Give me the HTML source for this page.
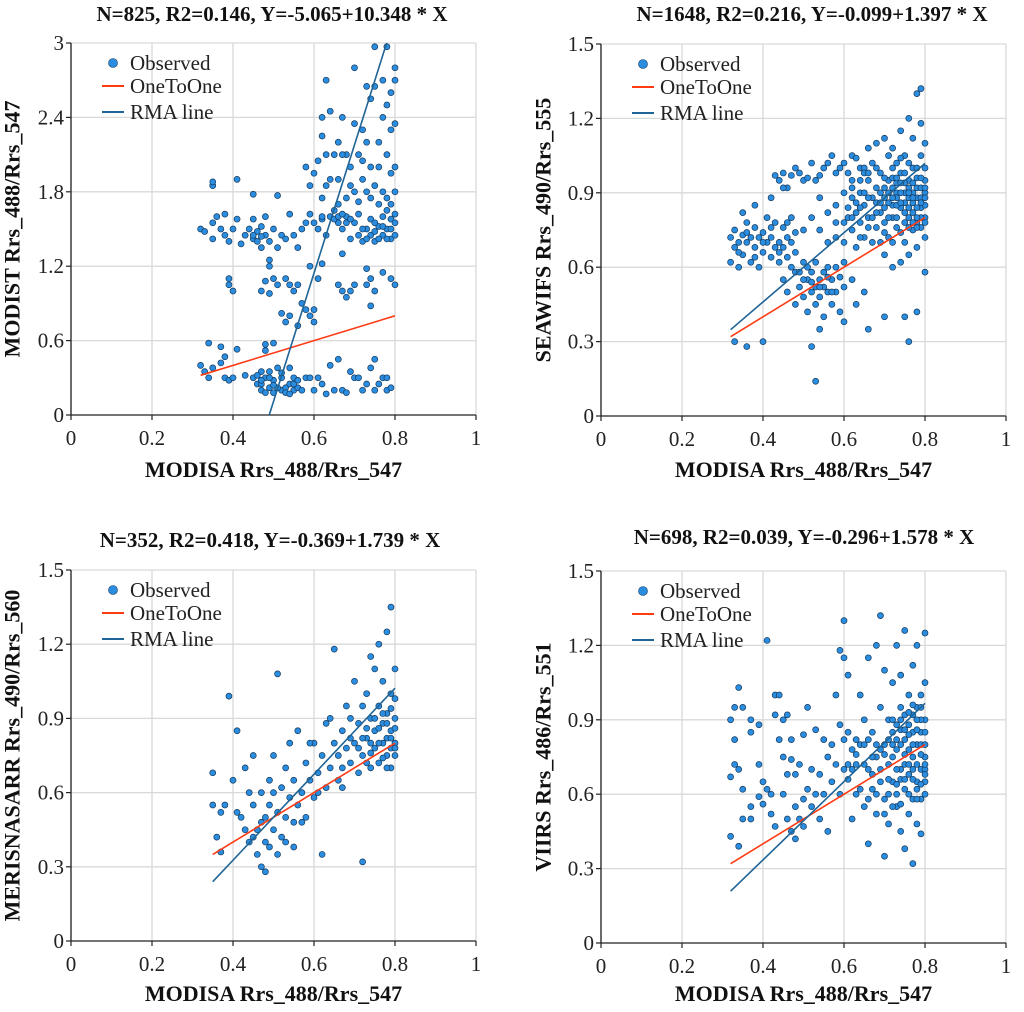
<!DOCTYPE html>
<html><head><meta charset="utf-8"><style>
body{margin:0;background:#fff}
svg,svg text{font-family:"Liberation Serif","DejaVu Serif",serif}
</style></head><body>
<svg id="chart" width="1024" height="1007" viewBox="0 0 1024 1007"></svg>
<script>
const xTicks=[0,0.2,0.4,0.6,0.8,1];
const yTicks1=[0,0.6,1.2,1.8,2.4,3];
const yTicks2=[0,0.3,0.6,0.9,1.2,1.5];
const titles=["N=825, R2=0.146, Y=-5.065+10.348 * X","N=1648, R2=0.216, Y=-0.099+1.397 * X","N=352, R2=0.418, Y=-0.369+1.739 * X","N=698, R2=0.039, Y=-0.296+1.578 * X"];
const yTitles=["MODIST Rrs_488/Rrs_547","SEAWIFS Rrs_490/Rrs_555","MERISNASARR Rrs_490/Rrs_560","VIIRS Rrs_486/Rrs_551"];
const intercepts=[-5.065,-0.099,-0.369,-0.296];
const slopes=[10.348,1.397,1.739,1.578];
const xMin=[0.32,0.32,0.35,0.32];
const pts1=[[.32,.4],[.33,.35],[.34,.3],[.35,.38],[.37,.42],[.38,.3],[.39,.28],[.4,.3],[.43,.32],[.45,.3],[.46,.25],[.47,.35],[.47,.2],[.48,.3],[.49,.22],[.49,.35],[.5,.18],[.5,.28],[.51,.38],[.52,.3],[.52,.2],[.53,.22],[.54,.25],[.54,.38],[.55,.3],[.55,.2],[.56,.22],[.57,.2],[.58,.3],[.59,.3],[.6,.2],[.61,.3],[.62,.25],[.63,.17],[.64,.4],[.65,.2],[.66,.45],[.67,.2],[.68,.18],[.69,.35],[.7,.3],[.71,.3],[.72,.2],[.73,.25],[.74,.38],[.75,.2],[.75,.45],[.76,.25],[.77,.3],[.78,.2],[.78,.3],[.79,.22],[.34,.58],[.37,.55],[.41,.53],[.38,.47],[.48,.57],[.48,.52],[.5,.58],[.47,.25],[.48,.18],[.49,.3],[.51,.22],[.53,.18],[.55,.25],[.46,.32],[.52,.34],[.54,.17],[.56,.28],[.47,.28],[.5,.24],
[.39,1.1],[.39,1.05],[.4,1.0],[.47,1.0],[.48,1.08],[.49,.98],[.5,1.1],[.51,1.05],[.53,1.1],[.54,1.05],[.55,1.0],[.56,1.05],[.52,.82],[.53,.75],[.54,.8],[.56,.72],[.57,.9],[.58,.85],[.59,.8],[.6,.75],[.6,.85],[.61,1.1],[.66,1.05],[.67,1.0],[.68,.95],[.69,1.0],[.7,1.05],[.73,1.05],[.74,1.1],[.75,1.0],[.74,.88],[.77,1.15],[.79,1.1],[.8,1.05],[.59,1.2],[.62,1.22],[.67,1.3],[.73,1.18],[.49,1.25],[.49,1.2],
[.32,1.5],[.33,1.48],[.35,1.55],[.35,1.42],[.36,1.6],[.37,1.5],[.38,1.45],[.38,1.62],[.39,1.4],[.4,1.5],[.41,1.58],[.42,1.38],[.43,1.45],[.44,1.5],[.45,1.42],[.45,1.58],[.46,1.48],[.47,1.35],[.47,1.52],[.48,1.45],[.48,1.6],[.49,1.4],[.5,1.5],[.51,1.35],[.52,1.45],[.53,1.42],[.54,1.62],[.55,1.45],[.56,1.35],[.57,1.5],[.58,1.55],[.59,1.62],[.6,1.55],[.61,1.5],[.62,1.58],[.63,1.45],[.64,1.6],[.65,1.65],[.66,1.55],[.67,1.5],[.68,1.6],[.69,1.42],[.7,1.55],[.71,1.62],[.72,1.4],[.73,1.5],[.74,1.45],[.74,1.58],[.75,1.4],[.76,1.52],[.77,1.45],[.77,1.6],[.78,1.5],[.79,1.42],[.79,1.58],[.8,1.55],[.62,1.6],[.65,1.58],[.68,1.55],[.71,1.45],[.75,1.55],[.78,1.65],[.45,1.45],[.46,1.4],[.47,1.44],[.66,1.6],[.67,1.62],[.69,1.58],[.72,1.5],[.73,1.42],[.75,1.48],[.76,1.42],[.77,1.52],[.78,1.42],[.8,1.45],[.8,1.62],[.79,1.5],[.35,1.85],[.35,1.88],[.41,1.9],[.45,1.78],[.51,1.77],[.58,2.0],[.59,1.85],[.6,1.95],[.62,1.75],[.63,1.85],[.64,1.9],[.66,1.9],[.66,1.7],[.68,1.75],[.69,1.85],[.7,1.8],[.71,1.72],[.72,1.9],[.73,1.8],[.74,1.75],[.75,1.85],[.76,1.7],[.77,1.8],[.78,1.75],[.79,1.7],[.8,1.8],
[.62,2.25],[.62,2.4],[.63,2.7],[.64,2.45],[.65,2.1],[.66,2.2],[.67,2.4],[.68,2.1],[.69,2.0],[.7,2.35],[.7,2.8],[.71,2.1],[.72,2.05],[.73,2.65],[.73,2.2],[.74,2.55],[.74,2.0],[.75,2.97],[.75,2.65],[.76,2.2],[.76,2.0],[.77,2.4],[.77,2.7],[.78,2.97],[.78,2.5],[.78,2.1],[.79,2.3],[.79,2.6],[.79,1.95],[.8,2.8],[.8,2.7],[.8,2.35],[.8,2.0],[.61,2.05],[.63,2.1],[.67,2.1],[.72,2.3]];
const pts2=[[.32,.72],[.32,.62],[.33,.68],[.33,.75],[.34,.7],[.34,.6],[.35,.73],[.35,.65],[.36,.7],[.36,.78],[.37,.62],[.37,.72],[.38,.68],[.38,.76],[.39,.6],[.39,.72],[.4,.66],[.4,.74],[.41,.7],[.41,.8],[.42,.64],[.42,.72],[.43,.68],[.43,.78],[.44,.7],[.44,.62],[.45,.76],[.45,.68],[.46,.72],[.46,.64],[.47,.7],[.47,.8],[.48,.74],[.48,.66],[.35,.82],[.38,.85],[.42,.88],[.44,.95],[.45,.98],[.46,.92],[.47,.97],[.48,1.0],[.5,.95],[.52,1.02],[.53,.95],[.55,1.0],[.57,1.05],[.58,.98],[.6,1.02],[.62,1.05],[.64,1.0],[.66,1.08],[.68,1.1],[.7,1.12],[.72,1.08],[.74,1.15],[.76,1.2],[.78,1.3],[.79,1.32],[.34,.66],[.36,.74],[.38,.64],[.4,.7],[.42,.76],[.44,.66],[.46,.78],[.43,.97],[.45,.92],[.49,.98],[.51,.96],[.54,.97],[.56,1.02],[.59,1.0],[.61,.98],[.63,1.04],[.65,1.0],
[.45,.55],[.46,.5],[.47,.6],[.48,.45],[.48,.58],[.49,.52],[.5,.48],[.5,.62],[.51,.55],[.51,.42],[.52,.58],[.52,.5],[.53,.45],[.53,.62],[.54,.55],[.54,.48],[.55,.52],[.55,.4],[.56,.6],[.56,.5],[.57,.45],[.57,.55],[.58,.6],[.58,.5],[.59,.42],[.59,.56],[.6,.52],[.6,.62],[.62,.55],[.63,.45],[.65,.5],[.66,.35],[.54,.35],[.52,.28],[.53,.14],[.4,.3],[.36,.28],[.33,.3],[.6,.38],[.7,.4],[.75,.4],[.78,.42],[.76,.3],[.8,.58],[.49,.58],[.51,.6],[.53,.52],[.55,.58],[.57,.5],[.52,.54],[.54,.52],[.5,.55],[.56,.56],
[.6,.7],[.61,.8],[.62,.75],[.62,.88],[.63,.68],[.63,.82],[.64,.78],[.64,.9],[.65,.72],[.65,.85],[.66,.8],[.66,.95],[.67,.7],[.67,.88],[.68,.76],[.68,.92],[.69,.82],[.69,.7],[.7,.88],[.7,.78],[.71,.95],[.71,.72],[.72,.85],[.72,.8],[.73,.9],[.73,.76],[.74,.98],[.74,.84],[.75,.7],[.75,.9],[.76,.8],[.76,.95],[.77,.86],[.77,1.0],[.78,.78],[.78,.92],[.79,.84],[.79,1.05],[.8,.9],[.8,.8],[.8,.95],[.75,.82],[.77,.75],[.73,.85],[.78,.88],[.79,.92],[.76,.88],[.74,.9],[.72,.92],[.7,.84],[.68,.86],[.66,.88],[.64,.84],[.79,.76],[.8,.72],[.78,.68],[.8,1.1],[.79,1.18],[.77,1.12],[.75,1.05],[.73,1.02],[.71,1.05],[.69,.98],[.67,1.02],[.65,.98],[.62,.95],[.6,.9],[.58,.85],[.56,.82],[.54,.88],[.52,.8],[.5,.75],[.58,.72],[.56,.7],[.54,.75],[.7,.65],[.74,.62],[.76,.65],[.72,.6],[.77,.82],[.79,.88],[.75,.86],[.73,.8],[.71,.86],[.69,.9],[.8,.85],[.78,.84],[.76,.92],[.74,.74],[.72,.7],[.7,.74],
[.71,.9],[.72,.96],[.73,.94],[.74,.86],[.75,.94],[.76,.84],[.77,.9],[.78,.96],[.79,.8],[.8,.88],[.75,.78],[.77,.94],[.73,.88],[.71,.8],[.69,.86],[.67,.8],[.65,.9],[.63,.86],[.61,.84],[.68,.82],[.7,.92],[.72,.88],[.74,.94],[.76,.76],[.78,.8],[.8,.78],[.79,.96],[.77,.78],[.75,.98],[.73,.96],[.66,.76],[.64,.72],[.62,.8],[.6,.78],[.58,.78],[.78,1.0],[.8,1.0],[.76,1.02],[.74,1.04],[.72,1.0],[.7,.96],[.68,1.0],[.66,.98],[.64,.95],[.62,.92],[.8,.92],[.79,.86],[.78,.76],[.77,.88],[.76,.9]];
const pts3=[[.35,.55],[.35,.68],[.36,.42],[.37,.36],[.37,.52],[.38,.55],[.39,.99],[.4,.65],[.41,.85],[.42,.5],[.43,.7],[.44,.6],[.44,.4],[.45,.55],[.45,.75],[.46,.45],[.46,.35],[.47,.6],[.47,.3],[.48,.5],[.48,.4],[.48,.28],[.49,.55],[.49,.65],[.5,.45],[.5,.6],[.5,.75],[.51,1.08],[.51,.52],[.52,.62],[.52,.42],[.53,.5],[.53,.7],[.54,.58],[.54,.8],[.55,.48],[.55,.65],[.56,.55],[.56,.85],[.57,.6],[.58,.72],[.58,.5],[.59,.65],[.6,.58],[.6,.8],[.61,.68],[.62,.75],[.62,.35],[.63,.62],[.64,.7],[.64,.9],[.65,.8],[.65,1.18],[.66,.65],[.66,.75],[.67,.85],[.67,.7],[.68,.95],[.68,.78],[.69,.72],[.69,.9],[.7,.8],[.7,1.05],[.71,.68],[.71,.88],[.72,.75],[.72,.95],[.72,.32],[.73,.82],[.73,1.0],[.74,.7],[.74,.9],[.74,1.15],[.75,.85],[.75,.78],[.75,1.1],[.76,.95],[.76,.72],[.76,1.2],[.77,.88],[.77,.8],[.77,1.05],[.78,.92],[.78,.75],[.78,1.25],[.79,.85],[.79,1.0],[.79,.78],[.79,1.35],[.8,.9],[.8,.8],[.8,1.1],[.8,.75],[.78,.82],[.76,.86],[.74,.8],[.8,.98],[.79,.7],[.77,.74],[.73,.72],[.71,.78],[.69,.82],[.67,.62],[.63,.88],[.61,.6],[.59,.8],[.57,.48],[.55,.38],[.53,.4],[.51,.35],[.49,.38],[.47,.48],[.45,.42],[.43,.45],[.41,.52],[.78,.88],[.79,.94],[.8,.86],[.77,.92],[.76,.8],[.75,.9],[.74,.76],[.73,.86],[.72,.82],[.8,.78],[.79,.82],[.78,.7]];
const pts4=[[.32,.9],[.32,.67],[.32,.43],[.33,.95],[.33,.82],[.33,.72],[.34,1.03],[.34,.7],[.34,.39],[.35,.62],[.35,.5],[.35,.95],[.37,.9],[.37,.85],[.37,.55],[.37,.5],[.39,.88],[.39,.72],[.39,.59],[.4,.65],[.4,.56],[.41,.62],[.41,1.22],[.42,.52],[.42,.6],[.43,1.0],[.43,.92],[.43,.47],[.44,1.0],[.44,.82],[.45,.9],[.45,.75],[.45,.6],[.46,.92],[.46,.68],[.46,.5],[.47,.74],[.47,.45],[.47,.82],[.48,.55],[.48,.42],[.48,.68],[.49,.72],[.49,.5],[.5,.58],[.5,.84],[.5,.47],[.51,.95],[.51,.62],[.52,.55],[.52,.7],[.53,.6],[.53,.86],[.54,.5],[.54,.68],[.55,.82],[.55,.6],[.56,.75],[.56,.45],[.57,.8],[.57,.65],[.58,.72],[.58,1.0],[.59,1.18],[.59,.88],[.59,.6],[.6,1.3],[.6,1.15],[.6,.82],[.6,.7],[.61,1.08],[.61,.85],[.61,.66],[.62,.78],[.62,.5],[.63,.72],[.63,.6],[.64,.8],[.64,1.0],[.65,.55],[.65,.9],[.66,.7],[.66,1.15],[.66,.4],[.67,.85],[.67,.62],[.68,.75],[.68,1.2],[.68,.52],[.69,.95],[.69,1.32],[.69,.65],[.7,.8],[.7,.58],[.7,1.1],[.7,.35],[.71,.72],[.71,.9],[.71,.48],[.72,.85],[.72,.65],[.72,1.05],[.73,.78],[.73,.55],[.73,1.2],[.74,.9],[.74,.7],[.74,.45],[.74,1.08],[.75,.82],[.75,.62],[.75,1.26],[.75,.38],[.76,.88],[.76,.68],[.76,.52],[.76,1.0],[.77,.75],[.77,.92],[.77,.58],[.77,1.12],[.77,.32],[.78,.8],[.78,.65],[.78,.95],[.78,.48],[.78,1.2],[.79,.85],[.79,.7],[.79,1.0],[.79,.58],[.79,.44],[.8,.75],[.8,.9],[.8,.65],[.8,1.25],[.8,.6],[.8,1.05],[.73,.88],[.75,.92],[.77,.85],[.79,.8],[.72,.75],[.74,.8],[.76,.78],[.78,.72],[.71,.82],[.69,.78],[.67,.75],[.65,.8],[.63,.82],[.61,.72],[.64,.62],[.66,.58],[.68,.6],[.7,.52],[.72,.55],[.74,.56],[.76,.6],[.78,.58],[.8,.7],[.8,.8],[.75,.72],[.77,.66],[.79,.64],[.73,.64],[.71,.6],[.79,.9],[.77,.96],[.75,.76],[.73,.7],[.8,.85],
[.74,.86],[.76,.84],[.78,.86],[.72,.8],[.74,.66],[.76,.72],[.78,.62],[.8,.68],[.79,.76],[.77,.7],[.75,.66],[.73,.6],[.71,.66],[.69,.7],[.67,.68],[.65,.72],[.72,.9],[.74,.95],[.76,.93],[.78,.9],[.79,.95],[.75,.86],[.73,.82],[.7,.76],[.68,.8],[.66,.82],[.63,.76],[.62,.7],[.77,.8],[.8,.72]];

const panels=[
 {L:71,R:476,T:43,B:415,yMax:3,yt:yTicks1,pts:pts1,tx:272,ty:21,ytx:12,xty:477},
 {L:601,R:1006,T:44,B:416,yMax:1.5,yt:yTicks2,pts:pts2,tx:812,ty:21,ytx:543,xty:477},
 {L:71,R:476,T:570,B:941,yMax:1.5,yt:yTicks2,pts:pts3,tx:270,ty:547,ytx:12,xty:1001},
 {L:601,R:1006,T:571,B:943,yMax:1.5,yt:yTicks2,pts:pts4,tx:804,ty:544,ytx:543,xty:1001}
];
const NS="http://www.w3.org/2000/svg";
const svg=document.getElementById('chart');
function mk(tag,attrs,parent,text){const e=document.createElementNS(NS,tag);for(const k in attrs)e.setAttribute(k,attrs[k]);if(tag==='text')e.style.fontFamily='"Liberation Serif", serif';if(text!==undefined)e.textContent=text;parent.appendChild(e);return e;}
panels.forEach((p,i)=>{
 const g=mk('g',{},svg);
 
 
 const sx=v=>p.L+(p.R-p.L)*v;
 const sy=v=>p.B-(p.B-p.T)*v/p.yMax;
 xTicks.forEach(t=>{
  const gl=mk('line',{x1:sx(t),x2:sx(t),y1:p.T,y2:p.B,stroke:'#d9d9d9','stroke-width':1.3},g);
  
  
  mk('line',{x1:sx(t),x2:sx(t),y1:p.B,y2:p.B+5,stroke:'#222','stroke-width':1.2},g);
  const tl=mk('text',{x:sx(t),y:p.B+30,'text-anchor':'middle','font-size':21,fill:'#222'},g,String(t));
  
  
 });
 p.yt.forEach(t=>{
  if(t>0){const gl=mk('line',{x1:p.L,x2:p.R,y1:sy(t),y2:sy(t),stroke:'#d9d9d9','stroke-width':1.3},g);
  
  }
  mk('line',{x1:p.L-5,x2:p.L,y1:sy(t),y2:sy(t),stroke:'#222','stroke-width':1.2},g);
  const tl=mk('text',{x:p.L-7,y:sy(t)+7,'text-anchor':'end','font-size':21,fill:'#222'},g,String(t));
  
  
 });
 mk('line',{x1:p.L,x2:p.L,y1:p.T,y2:p.B,stroke:'#222','stroke-width':1.3},g);
 mk('line',{x1:p.L,x2:p.R,y1:p.B,y2:p.B,stroke:'#222','stroke-width':1.3},g);
 p.pts.forEach(d=>{
  const c=mk('circle',{cx:sx(d[0]),cy:sy(d[1]),r:3,fill:'#2a8de0',stroke:'#163a5c','stroke-width':0.7},g);
  
  
 });
 const x0=xMin[i];
 const one=mk('line',{x1:sx(x0),y1:sy(x0),x2:sx(0.8),y2:sy(0.8),stroke:'#ff3b14','stroke-width':1.6},g);
 
 
 let a=x0,b=0.8;
 const f=x=>intercepts[i]+slopes[i]*x;
 if(f(a)<0)a=-intercepts[i]/slopes[i];
 if(f(b)>p.yMax)b=(p.yMax-intercepts[i])/slopes[i];
 const rma=mk('line',{x1:sx(a),y1:sy(f(a)),x2:sx(b),y2:sy(f(b)),stroke:'#1f6496','stroke-width':1.6},g);
 
 
 const lg=mk('g',{},g);
 
 
 mk('circle',{cx:p.L+42,cy:p.T+20,r:4.5,fill:'#2a8de0',stroke:'#163a5c','stroke-width':0.6},lg);
 mk('text',{x:p.L+59,y:p.T+27,'font-size':21,fill:'#222'},lg,'Observed');
 mk('line',{x1:p.L+31,x2:p.L+53,y1:p.T+43,y2:p.T+43,stroke:'#ff3b14','stroke-width':2},lg);
 mk('text',{x:p.L+59,y:p.T+50,'font-size':21,fill:'#222'},lg,'OneToOne');
 mk('line',{x1:p.L+31,x2:p.L+53,y1:p.T+69,y2:p.T+69,stroke:'#1f6496','stroke-width':2},lg);
 mk('text',{x:p.L+59,y:p.T+76,'font-size':21,fill:'#222'},lg,'RMA line');
 const tt=mk('text',{x:p.tx,y:p.ty,'text-anchor':'middle','font-size':21,'font-weight':'bold',fill:'#111'},g,titles[i]);
 
 
 const cy=(p.T+p.B)/2;
 const yt=mk('text',{x:p.ytx,y:cy,'text-anchor':'middle','font-size':22,'font-weight':'bold',fill:'#111',transform:`rotate(-90 ${p.ytx} ${cy})`,'dominant-baseline':'central'},g,yTitles[i]);
 
 
 const xt=mk('text',{x:(p.L+p.R)/2,y:p.xty,'text-anchor':'middle','font-size':22,'font-weight':'bold',fill:'#111'},g,'MODISA Rrs_488/Rrs_547');
 
 
});
</script>
</body></html>
